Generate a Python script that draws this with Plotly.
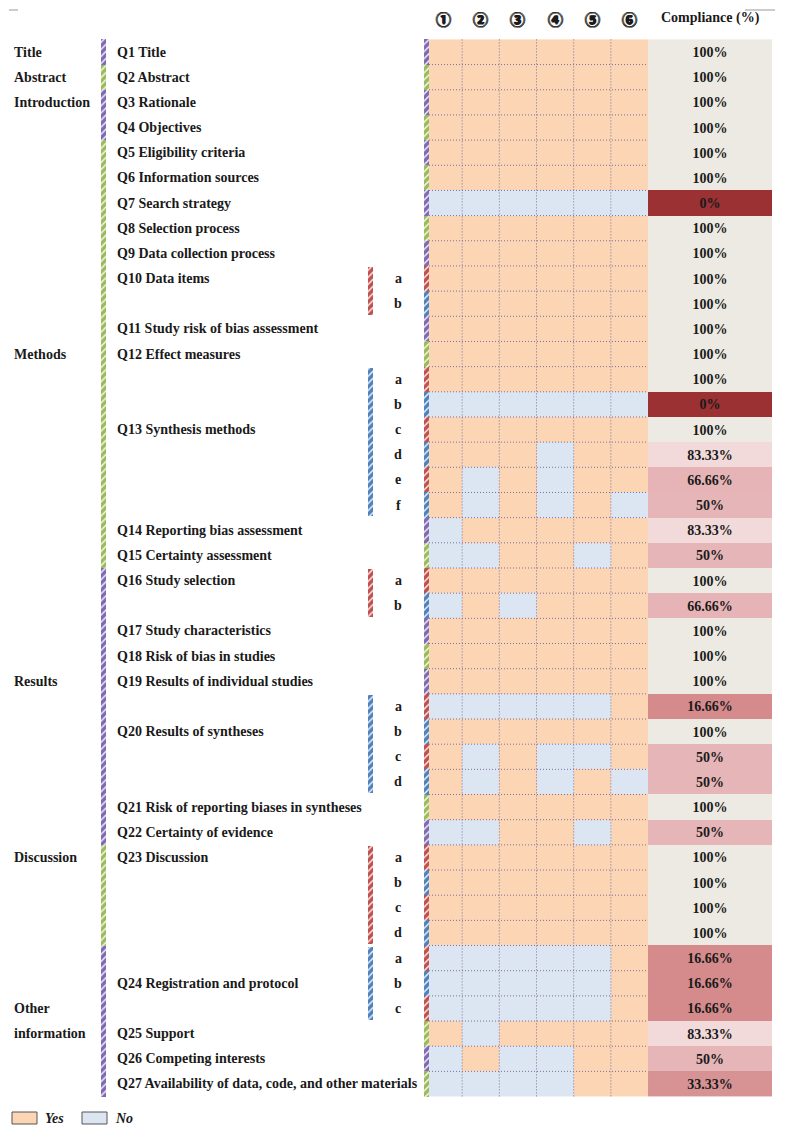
import plotly.graph_objects as go

# ---------------- data ----------------
studies = ["①", "②", "③", "④", "⑤", "⑥"]

row_question = ["Q1", "Q2", "Q3", "Q4", "Q5", "Q6", "Q7", "Q8", "Q9", "Q10", "Q10",
                "Q11", "Q12", "Q13", "Q13", "Q13", "Q13", "Q13", "Q13", "Q14", "Q15",
                "Q16", "Q16", "Q17", "Q18", "Q19", "Q20", "Q20", "Q20", "Q20", "Q21",
                "Q22", "Q23", "Q23", "Q23", "Q23", "Q24", "Q24", "Q24", "Q25", "Q26", "Q27"]
row_sub = ["", "", "", "", "", "", "", "", "", "a", "b",
           "", "", "a", "b", "c", "d", "e", "f", "", "",
           "a", "b", "", "", "", "a", "b", "c", "d", "",
           "", "a", "b", "c", "d", "a", "b", "c", "", "", ""]

question_text = {
    "Q1": "Q1 Title", "Q2": "Q2 Abstract", "Q3": "Q3 Rationale", "Q4": "Q4 Objectives",
    "Q5": "Q5 Eligibility criteria", "Q6": "Q6 Information sources",
    "Q7": "Q7 Search strategy", "Q8": "Q8 Selection process",
    "Q9": "Q9 Data collection process", "Q10": "Q10 Data items",
    "Q11": "Q11 Study risk of bias assessment", "Q12": "Q12 Effect measures",
    "Q13": "Q13 Synthesis methods", "Q14": "Q14 Reporting bias assessment",
    "Q15": "Q15 Certainty assessment", "Q16": "Q16 Study selection",
    "Q17": "Q17 Study characteristics", "Q18": "Q18 Risk of bias in studies",
    "Q19": "Q19 Results of individual studies", "Q20": "Q20 Results of syntheses",
    "Q21": "Q21 Risk of reporting biases in syntheses", "Q22": "Q22 Certainty of evidence",
    "Q23": "Q23 Discussion", "Q24": "Q24 Registration and protocol",
    "Q25": "Q25 Support", "Q26": "Q26 Competing interests",
    "Q27": "Q27 Availability of data, code, and other materials",
}

sections = ["Title", "Abstract", "Introduction", "Methods", "Results", "Discussion",
            "Other", "information"]
section_first_q = ["Q1", "Q2", "Q3", "Q5", "Q16", "Q23", "Q24"]

# 1 = Yes, 0 = No  (rows x 6 studies)
answers = [
    [1, 1, 1, 1, 1, 1],  # Q1
    [1, 1, 1, 1, 1, 1],  # Q2
    [1, 1, 1, 1, 1, 1],  # Q3
    [1, 1, 1, 1, 1, 1],  # Q4
    [1, 1, 1, 1, 1, 1],  # Q5
    [1, 1, 1, 1, 1, 1],  # Q6
    [0, 0, 0, 0, 0, 0],  # Q7
    [1, 1, 1, 1, 1, 1],  # Q8
    [1, 1, 1, 1, 1, 1],  # Q9
    [1, 1, 1, 1, 1, 1],  # Q10a
    [1, 1, 1, 1, 1, 1],  # Q10b
    [1, 1, 1, 1, 1, 1],  # Q11
    [1, 1, 1, 1, 1, 1],  # Q12
    [1, 1, 1, 1, 1, 1],  # Q13a
    [0, 0, 0, 0, 0, 0],  # Q13b
    [1, 1, 1, 1, 1, 1],  # Q13c
    [1, 1, 1, 0, 1, 1],  # Q13d
    [1, 0, 1, 0, 1, 1],  # Q13e
    [1, 0, 1, 0, 1, 0],  # Q13f
    [0, 1, 1, 1, 1, 1],  # Q14
    [0, 0, 1, 1, 0, 1],  # Q15
    [1, 1, 1, 1, 1, 1],  # Q16a
    [0, 1, 0, 1, 1, 1],  # Q16b
    [1, 1, 1, 1, 1, 1],  # Q17
    [1, 1, 1, 1, 1, 1],  # Q18
    [1, 1, 1, 1, 1, 1],  # Q19
    [0, 0, 0, 0, 0, 1],  # Q20a
    [1, 1, 1, 1, 1, 1],  # Q20b
    [1, 0, 1, 0, 0, 1],  # Q20c
    [1, 0, 1, 0, 1, 0],  # Q20d
    [1, 1, 1, 1, 1, 1],  # Q21
    [0, 0, 1, 1, 0, 1],  # Q22
    [1, 1, 1, 1, 1, 1],  # Q23a
    [1, 1, 1, 1, 1, 1],  # Q23b
    [1, 1, 1, 1, 1, 1],  # Q23c
    [1, 1, 1, 1, 1, 1],  # Q23d
    [0, 0, 0, 0, 0, 1],  # Q24a
    [0, 0, 0, 0, 0, 1],  # Q24b
    [0, 0, 0, 0, 0, 1],  # Q24c
    [1, 0, 1, 1, 1, 1],  # Q25
    [0, 1, 0, 0, 1, 1],  # Q26
    [0, 0, 0, 0, 1, 1],  # Q27
]

compliance = [100, 100, 100, 100, 100, 100, 0, 100, 100, 100, 100,
              100, 100, 100, 0, 100, 83.33, 66.66, 50, 83.33, 50,
              100, 66.66, 100, 100, 100, 16.66, 100, 50, 50, 100,
              50, 100, 100, 100, 100, 16.66, 16.66, 16.66, 83.33, 50, 33.33]

legend_labels = ["Yes", "No"]

# ---------------- styles / layout ----------------
OFF = 8                       # page body margin
W, H = 786 - 2 * OFF, 1133 - 2 * OFF
ROW = 25.17
ROW0_PX = 52
YES_C = "#FCD5B4"
NO_C = "#DCE6F2"
PURPLE = "#7F69B3"
GREEN = "#9BBB59"
RED = "#C0504D"
BLUE = "#4F81BD"
GRID_C = "#7E6E9E"
TXT = "#1a1a1a"
SERIF = "Liberation Serif"
FS = 14

col_left, col_right = 425.0, 648.0
col_w = (col_right - col_left) / len(studies)
col_edges = [col_left + i * col_w for i in range(len(studies) + 1)]
comp_edges = [648.0, 772.0]

n = len(row_question)
y_edges = [i - 0.5 for i in range(n + 1)]
y_top = (OFF - ROW0_PX) / ROW
y_bot = (OFF + H - ROW0_PX) / ROW


def px2row(py):
    return (py - ROW0_PX) / ROW


def px2paper(py):
    return 1 - (py - OFF) / H


fig = go.Figure()

# Yes / No grid
fig.add_trace(go.Heatmap(
    z=answers, x=col_edges, y=y_edges,
    colorscale=[[0, NO_C], [0.5, NO_C], [0.5, YES_C], [1, YES_C]],
    zmin=0, zmax=1, showscale=False, hoverinfo="skip"))

# compliance column
comp_scale = [
    [0.0, "#9B3133"], [0.12, "#A8494B"], [0.1666, "#D58A8C"], [0.3333, "#D79294"],
    [0.5, "#E5B5B7"], [0.6666, "#E6B4B6"], [0.8333, "#F2DADB"], [1.0, "#ECEAE2"]]
fig.add_trace(go.Heatmap(
    z=[[v] for v in compliance], x=comp_edges, y=y_edges,
    text=[[f"{v:g}%"] for v in compliance],
    texttemplate="<b>%{text}</b>",
    textfont=dict(family=SERIF, size=FS, color=TXT),
    colorscale=comp_scale, zmin=0, zmax=100, showscale=False, hoverinfo="skip"))


def stripe_bar(xc, start, length, color, width=5):
    fig.add_trace(go.Bar(
        x=[xc], y=[length], base=[start], width=[width],
        marker=dict(color=color, line=dict(width=0),
                    pattern=dict(shape="/", fgcolor="white", fgopacity=0.85,
                                 size=5, solidity=0.3, fillmode="overlay")),
        showlegend=False, hoverinfo="skip"))


# per-row stripes at grid left edge
row_color_main = {
    "Q1": PURPLE, "Q2": GREEN, "Q3": PURPLE, "Q4": GREEN, "Q5": PURPLE, "Q6": GREEN,
    "Q7": PURPLE, "Q8": GREEN, "Q9": PURPLE, "Q11": PURPLE, "Q12": GREEN,
    "Q14": PURPLE, "Q15": GREEN, "Q17": PURPLE, "Q18": GREEN, "Q19": PURPLE,
    "Q21": GREEN, "Q22": PURPLE, "Q25": GREEN, "Q26": PURPLE, "Q27": GREEN}
for i in range(n):
    if row_sub[i]:
        c = RED if row_sub[i] in "ace" else BLUE
    else:
        c = row_color_main[row_question[i]]
    stripe_bar(426.5, i - 0.5, 1, c)

# section stripe (left)
sec_starts = [row_question.index(q) for q in section_first_q] + [n]
for k in range(len(section_first_q)):
    stripe_bar(103.5, sec_starts[k] - 0.5, sec_starts[k + 1] - sec_starts[k],
               PURPLE if k % 2 == 0 else GREEN)

# sub-item stripes
group_qs = [q for q in dict.fromkeys(row_question) if row_question.count(q) > 1]
for j, q in enumerate(group_qs):
    s = row_question.index(q)
    cnt = row_question.count(q)
    stripe_bar(370.5, s - 0.45, cnt - 0.1, RED if j % 2 == 0 else BLUE)

# dotted grid lines
for i in range(1, n):
    fig.add_shape(type="line", x0=col_left + 4, x1=col_right, y0=i - 0.5, y1=i - 0.5,
                  line=dict(color=GRID_C, width=1, dash="1px,2px"), layer="above")
for e in col_edges[1:-1]:
    fig.add_shape(type="line", x0=e, x1=e, y0=-0.5, y1=n - 0.5,
                  line=dict(color=GRID_C, width=1, dash="1px,2px"), layer="above")

ann = []
font_b = dict(family=SERIF, size=FS, color=TXT)
# headers
for j, s in enumerate(studies):
    ann.append(dict(x=(col_edges[j] + col_edges[j + 1]) / 2, y=px2row(18), text=f"<b>{s}</b>",
                    showarrow=False,
                    font=dict(family="Noto Sans CJK JP", size=15, color=TXT,
                              shadow="0.7px 0 0 #1a1a1a, -0.7px 0 0 #1a1a1a, 0 0.7px 0 #1a1a1a")))
ann.append(dict(x=sum(comp_edges) / 2, y=px2row(18), text="<b>Compliance (%)</b>",
                showarrow=False, font=font_b))

# question labels (row within each group where the label sits)
label_offset = {"Q10": 0, "Q13": 2, "Q16": 0, "Q20": 1, "Q23": 0, "Q24": 1}
for q in dict.fromkeys(row_question):
    r = row_question.index(q) + label_offset.get(q, 0)
    ann.append(dict(x=115, y=r, text=f"<b>{question_text[q]}</b>", xanchor="left",
                    showarrow=False, font=font_b))
# sub letters
for i, sub in enumerate(row_sub):
    if sub:
        ann.append(dict(x=398, y=i, text=f"<b>{sub}</b>", showarrow=False, font=font_b))

# section labels
sec_label_rows = [0, 1, 2, 12, 25, 32, 38, 39]
for k, sname in enumerate(sections):
    ann.append(dict(x=12, y=sec_label_rows[k], text=f"<b>{sname}</b>", xanchor="left",
                    align="left", showarrow=False, font=font_b))

# legend
leg_boxes = [(12, 37, YES_C), (82, 107, NO_C)]
for (x0, x1, c), lab in zip(leg_boxes, legend_labels):
    fig.add_shape(type="rect", xref="x", yref="paper", x0=x0, x1=x1,
                  y0=px2paper(1124), y1=px2paper(1112), fillcolor=c,
                  line=dict(color="#555555", width=1))
    ann.append(dict(x=x1 + 6, y=px2paper(1118), yref="paper", yanchor="middle",
                    text=f"<b><i>{lab}</i></b>",
                    xanchor="left", showarrow=False, font=font_b))

# small decorative marks
fig.add_shape(type="line", x0=9, x1=18, y0=px2row(10), y1=px2row(10),
              line=dict(color="#bbbbbb", width=1.5))
fig.add_shape(type="line", x0=745, x1=775, y0=px2row(10), y1=px2row(10),
              line=dict(color="#bbbbbb", width=1.5))

fig.update_layout(
    width=W, height=H, margin=dict(l=0, r=0, t=0, b=0),
    paper_bgcolor="white", plot_bgcolor="white",
    barmode="overlay", bargap=0, showlegend=False,
    xaxis=dict(range=[OFF, OFF + W], visible=False, fixedrange=True),
    yaxis=dict(range=[y_bot, y_top], visible=False, fixedrange=True),
    annotations=ann,
)

fig.write_html("out.html")
